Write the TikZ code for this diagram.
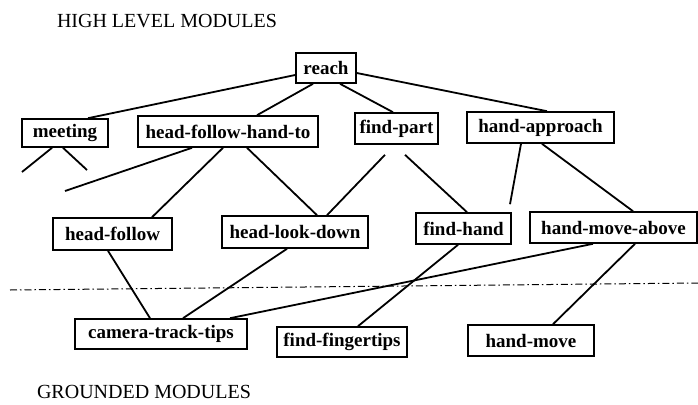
\documentclass[tikz,border=0pt]{standalone}
\usepackage{fontspec}
\setmainfont{Liberation Serif}
\usetikzlibrary{calc}
\begin{document}
\begin{tikzpicture}[x=1pt,y=-1pt,
  modbox/.style={draw, line width=1.6pt, inner sep=0pt, minimum height=31pt,
    font=\fontsize{19}{21}\selectfont\bfseries},
  link/.style={line width=1.8pt},
  title/.style={font=\fontsize{20}{22}\selectfont, inner sep=0pt},
  sep/.style={line width=1pt, dash pattern=on 7pt off 3pt on 1.5pt off 3pt}]
\useasboundingbox (0,0) rectangle (698,404);
% titles
\node[title] (hl) at (167,21) {HIGH LEVEL MODULES};
\node[title] (gm) at (144,392) {GROUNDED MODULES};
% high level
\node[modbox, minimum width=60pt, minimum height=30pt] (reach) at (326,68) {reach};
\node[modbox, minimum width=86pt, minimum height=28pt] (meet) at (65,133) {meeting};
\node[modbox, minimum width=180pt] (hfht) at (228,131.5) {head-follow-hand-to};
\node[modbox, minimum width=83pt] (fp) at (396.5,128.5) {find-part};
\node[modbox, minimum width=147pt] (ha) at (540.5,127.5) {hand-approach};
\node[modbox, minimum width=119pt, minimum height=32pt] (hf) at (112.5,234) {head-follow};
\node[modbox, minimum width=146pt, minimum height=32pt] (hld) at (295,232) {head-look-down};
\node[modbox, minimum width=95pt] (fh) at (463.5,228.5) {find-hand};
\node[modbox, minimum width=167pt] (hma) at (613.5,227.5) {hand-move-above};
% grounded
\node[modbox, minimum width=172pt, minimum height=30pt] (ctt) at (161,334) {camera-track-tips};
\node[modbox, minimum width=130pt, minimum height=30pt] (ff) at (342,342) {find-fingertips};
\node[modbox, minimum width=126pt] (hm) at (531,340.5) {hand-move};
% free ends
\coordinate (d1) at (22,172);
\coordinate (d2) at (87,170);
\coordinate (d3) at (65,191);
\coordinate (s1) at (10,290);
\coordinate (s2) at (698,283);
% separator
\draw[sep] (s1) -- (s2);
% connectors
\draw[link] ([yshift=-7pt]reach.west) -- ([xshift=23pt]meet.north);
\draw[link] ([xshift=-13pt]reach.south) -- ([xshift=29pt]hfht.north);
\draw[link] ([xshift=14pt]reach.south) -- ([xshift=-3.5pt]fp.north);
\draw[link] ([yshift=-5pt]reach.east) -- ([xshift=6.5pt]ha.north);
\draw[link] ([xshift=-13pt]meet.south) -- (d1);
\draw[link] ([xshift=-2pt]meet.south) -- (d2);
\draw[link] ([xshift=-36pt]hfht.south) -- (d3);
\draw[link] ([xshift=-5pt]hfht.south) -- ([xshift=39.5pt]hf.north);
\draw[link] ([xshift=19pt]hfht.south) -- ([xshift=22pt]hld.north);
\draw[link] ([xshift=-11.5pt,yshift=-10pt]fp.south) -- ([xshift=32pt]hld.north);
\draw[link] ([xshift=8.5pt,yshift=-10pt]fp.south) -- ([xshift=3.5pt]fh.north);
\draw[link] ([xshift=-19.5pt]ha.south) -- ([xshift=46.5pt,yshift=8pt]fh.north);
\draw[link] ([xshift=1.5pt]ha.south) -- ([xshift=19.5pt]hma.north);
\draw[link] ([xshift=-4.5pt]hf.south) -- ([xshift=-11pt]ctt.north);
\draw[link] ([xshift=-8pt]hld.south) -- ([xshift=22pt]ctt.north);
\draw[link] ([xshift=-20.5pt]hma.south) -- ([xshift=69pt]ctt.north);
\draw[link] ([xshift=-5.5pt]fh.south) -- ([xshift=16pt]ff.north);
\draw[link] ([xshift=21.5pt]hma.south) -- ([xshift=22pt]hm.north);
\end{tikzpicture}
\end{document}
